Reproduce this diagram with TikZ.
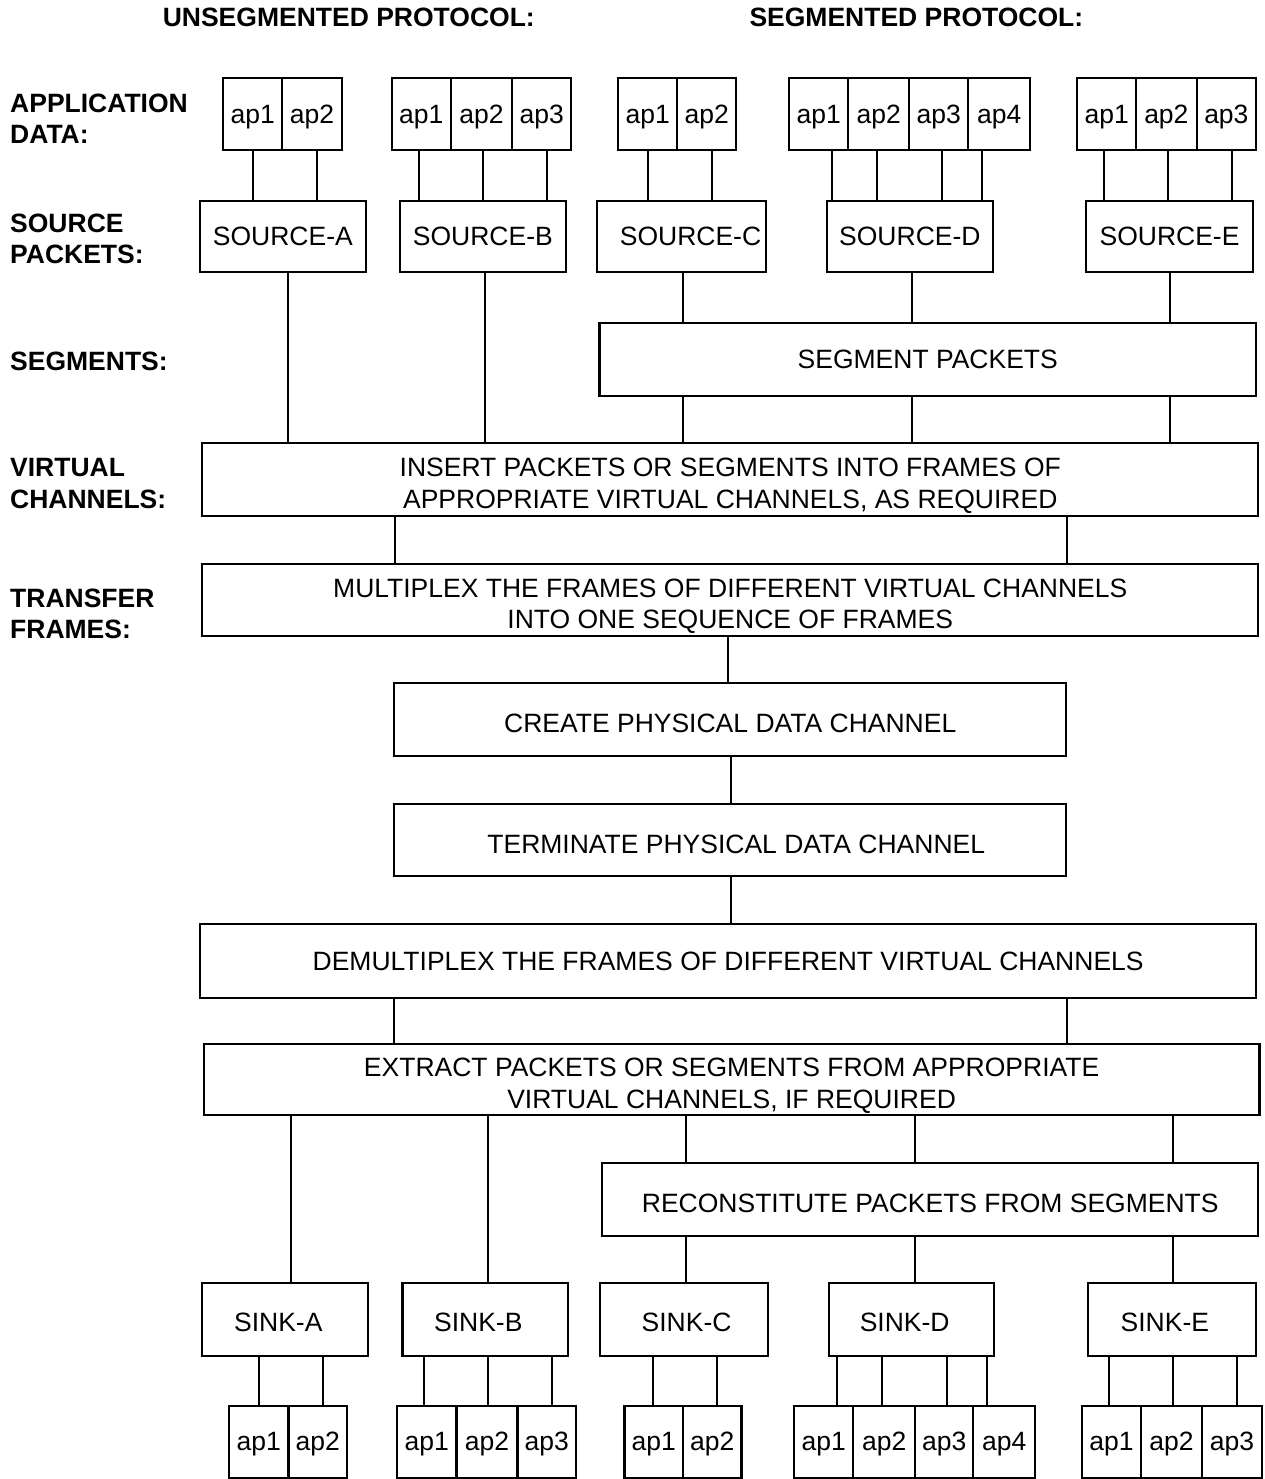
\documentclass[tikz,border=0pt]{standalone}
\usepackage{fontspec}
\setmainfont{Liberation Sans}
\tikzset{
  box/.style={draw, line width=2.3pt, inner sep=0pt, text depth=0pt,
    font=\fontsize{26.5}{31.7}\selectfont},
  low/.style={text height=26pt},
  lowtwo/.style={align=center, text height=57.7pt},
  conn/.style={line width=2.1pt},
  lbl/.style={font=\bfseries\fontsize{26.5}{31.3}\selectfont, inner sep=0pt,
    anchor=north west, align=left, text depth=0pt},
}
% [opts]{name}{x1}{y1}{x2}{y2}{text}
\newcommand\BX[7][]{\node[box,#1,minimum width={#5pt-#3pt},minimum height={#6pt-#4pt}]
  (#2) at ({(#3+#5)/2},{(#4+#6)/2}) {#7};}
% vertical connector {from}{to}{x}
\newcommand\VL[3]{\draw[conn] (#1.south -| #3,0) -- (#2.north -| #3,0);}
\begin{document}
\begin{tikzpicture}[x=1pt,y=-1pt]
\fill[white] (0,0) rectangle (1265,1479);
\useasboundingbox (0,0) rectangle (1265,1479);

% titles
\node[lbl] (t1) at (162.6,8.3) {UNSEGMENTED PROTOCOL:};
\node[lbl] (t2) at (749.3,8.3) {SEGMENTED PROTOCOL:};

% left labels
\node[lbl] (l1) at (10,93.3) {APPLICATION\\DATA:};
\node[lbl] (l2) at (10,213.3) {SOURCE\\PACKETS:};
\node[lbl] (l3) at (10,351.7) {SEGMENTS:};
\node[lbl] (l4) at (10,458.3) {VIRTUAL\\CHANNELS:};
\node[lbl] (l5) at (10,588.3) {TRANSFER\\FRAMES:};

% top application data
\BX{tA1}{223.3}{78.3}{282.3}{150}{ap1}
\BX{tA2}{282.3}{78.3}{341.7}{150}{ap2}
\BX{tB1}{391.7}{78.3}{450.7}{150}{ap1}
\BX{tB2}{450.7}{78.3}{512.3}{150}{ap2}
\BX{tB3}{512.3}{78.3}{571}{150}{ap3}
\BX{tC1}{618.3}{78.3}{677.3}{150}{ap1}
\BX{tC2}{677.3}{78.3}{736}{150}{ap2}
\BX{tD1}{789}{78.3}{848.3}{150}{ap1}
\BX{tD2}{848.3}{78.3}{909.3}{150}{ap2}
\BX{tD3}{909.3}{78.3}{968.3}{150}{ap3}
\BX{tD4}{968.3}{78.3}{1030}{150}{ap4}
\BX{tE1}{1077.3}{78.3}{1136}{150}{ap1}
\BX{tE2}{1136}{78.3}{1196.7}{150}{ap2}
\BX{tE3}{1196.7}{78.3}{1256}{150}{ap3}

% sources
\BX{sA}{200}{201}{365.7}{272.3}{SOURCE-A}
\BX{sB}{400}{201}{565.7}{272.3}{SOURCE-B}
\BX{sC}{597.3}{201}{765.7}{272.3}{\hspace*{18pt}SOURCE-C}
\BX{sD}{826.7}{201}{993}{272.3}{SOURCE-D}
\BX{sE}{1085.7}{201}{1253.3}{272.3}{SOURCE-E}

% process boxes
\BX{seg}{599.5}{323.3}{1256}{396}{SEGMENT PACKETS}
\BX[lowtwo]{ins}{202.2}{443.3}{1258.3}{516}{INSERT PACKETS OR SEGMENTS INTO FRAMES OF\\APPROPRIATE VIRTUAL CHANNELS, AS REQUIRED}
\BX[lowtwo]{mux}{202.2}{564}{1258.3}{636}{MULTIPLEX THE FRAMES OF DIFFERENT VIRTUAL CHANNELS\\INTO ONE SEQUENCE OF FRAMES}
\BX[low]{cre}{394.3}{683.3}{1066.2}{756}{CREATE PHYSICAL DATA CHANNEL}
\BX[low]{ter}{394.3}{804}{1066.2}{876}{\hspace*{12pt}TERMINATE PHYSICAL DATA CHANNEL}
\BX{dem}{200.3}{924}{1256}{998.3}{DEMULTIPLEX THE FRAMES OF DIFFERENT VIRTUAL CHANNELS}
\BX[lowtwo]{ext}{203.7}{1044}{1259.5}{1115}{EXTRACT PACKETS OR SEGMENTS FROM APPROPRIATE\\VIRTUAL CHANNELS, IF REQUIRED}
\BX[low]{rec}{602.2}{1163.3}{1258.3}{1236}{RECONSTITUTE PACKETS FROM SEGMENTS}

% sinks
\BX[text height=23pt]{kA}{202.2}{1283.3}{368.3}{1356}{\hspace*{-14pt}SINK-A}
\BX[text height=23pt]{kB}{402.4}{1283.3}{568.1}{1356}{\hspace*{-14pt}SINK-B}
\BX[text height=23pt]{kC}{600.3}{1283.3}{767.9}{1356}{\hspace*{5pt}SINK-C}
\BX[text height=23pt]{kD}{829}{1283.3}{994.3}{1356}{\hspace*{-14pt}SINK-D}
\BX[text height=23pt]{kE}{1087.7}{1283.3}{1256}{1356}{\hspace*{-14pt}SINK-E}

% bottom application data
\BX{bA1}{229}{1405.7}{288.4}{1477.7}{ap1}
\BX{bA2}{288.4}{1405.7}{346.9}{1477.7}{ap2}
\BX{bB1}{397}{1405.7}{456.4}{1477.7}{ap1}
\BX{bB2}{456.4}{1405.7}{517.6}{1477.7}{ap2}
\BX{bB3}{517.6}{1405.7}{575.8}{1477.7}{ap3}
\BX{bC1}{624.4}{1405.7}{682.9}{1477.7}{ap1}
\BX{bC2}{682.9}{1405.7}{741.5}{1477.7}{ap2}
\BX{bD1}{794.3}{1405.7}{853.3}{1477.7}{ap1}
\BX{bD2}{853.3}{1405.7}{915}{1477.7}{ap2}
\BX{bD3}{915}{1405.7}{973.3}{1477.7}{ap3}
\BX{bD4}{973.3}{1405.7}{1035}{1477.7}{ap4}
\BX{bE1}{1082.3}{1405.7}{1140.7}{1477.7}{ap1}
\BX{bE2}{1140.7}{1405.7}{1202.3}{1477.7}{ap2}
\BX{bE3}{1202.3}{1405.7}{1261.7}{1477.7}{ap3}

% connectors: application data -> sources
\VL{tA1}{sA}{253.3} \VL{tA2}{sA}{317}
\VL{tB1}{sB}{418.7} \VL{tB2}{sB}{482.7} \VL{tB3}{sB}{546.7}
\VL{tC1}{sC}{648.3} \VL{tC2}{sC}{711.7}
\VL{tD1}{sD}{831.7} \VL{tD2}{sD}{877.3} \VL{tD3}{sD}{941.7} \VL{tD4}{sD}{981.7}
\VL{tE1}{sE}{1104} \VL{tE2}{sE}{1167.7} \VL{tE3}{sE}{1231.7}
% sources -> segments / insert
\VL{sA}{ins}{288} \VL{sB}{ins}{485}
\VL{sC}{seg}{682.6} \VL{sD}{seg}{912} \VL{sE}{seg}{1170.2}
\VL{seg}{ins}{682.6} \VL{seg}{ins}{912} \VL{seg}{ins}{1170.2}
% chain
\VL{ins}{mux}{394.7} \VL{ins}{mux}{1066.7}
\VL{mux}{cre}{727.6}
\VL{cre}{ter}{731}
\VL{ter}{dem}{731}
\VL{dem}{ext}{394.3} \VL{dem}{ext}{1066.9}
\VL{ext}{kA}{291} \VL{ext}{kB}{488.1}
\VL{ext}{rec}{685.6} \VL{ext}{rec}{915} \VL{ext}{rec}{1173.3}
\VL{rec}{kC}{685.6} \VL{rec}{kD}{915} \VL{rec}{kE}{1173.3}
% sinks -> application data
\VL{kA}{bA1}{258.9} \VL{kA}{bA2}{322.8}
\VL{kB}{bB1}{424.2} \VL{kB}{bB2}{488.1} \VL{kB}{bB3}{551.7}
\VL{kC}{bC1}{653.1} \VL{kC}{bC2}{717.4}
\VL{kD}{bD1}{837.3} \VL{kD}{bD2}{882.3} \VL{kD}{bD3}{946.7} \VL{kD}{bD4}{986.7}
\VL{kE}{bE1}{1109} \VL{kE}{bE2}{1173.3} \VL{kE}{bE3}{1236.7}
\end{tikzpicture}
\end{document}
